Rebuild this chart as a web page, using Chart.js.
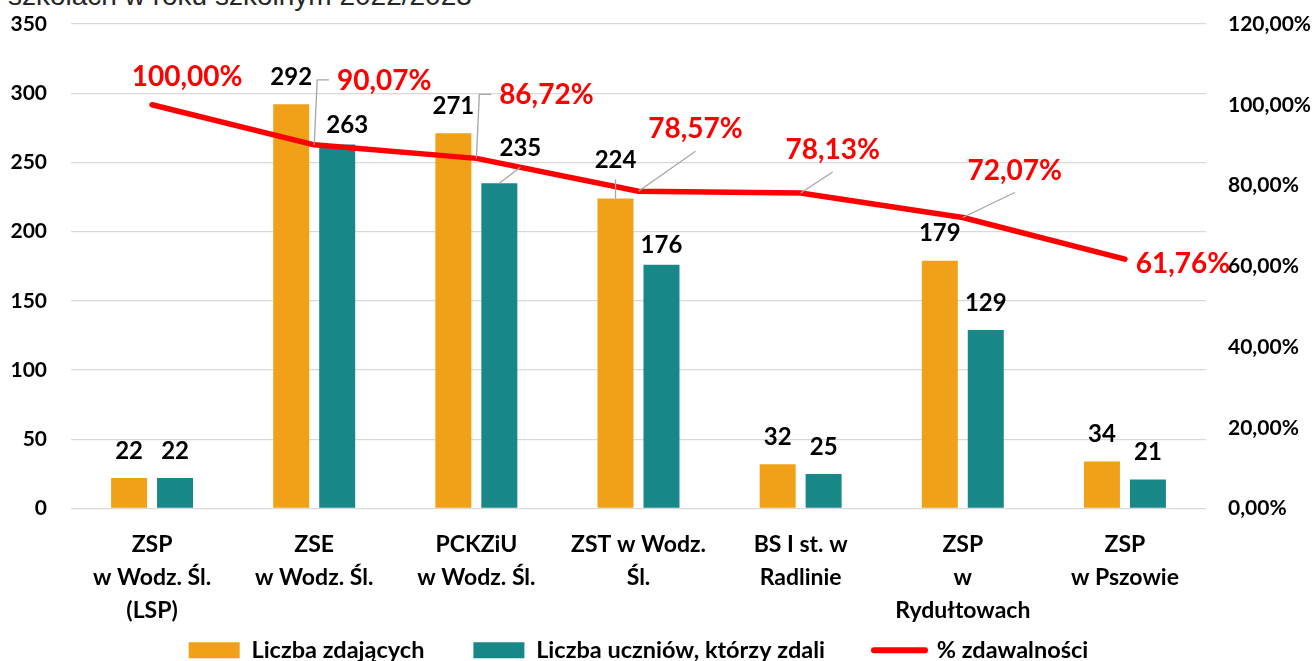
<!DOCTYPE html>
<html lang="pl">
<head>
<meta charset="utf-8">
<title>Zdawalność</title>
<script src="https://cdn.jsdelivr.net/npm/chart.js@4"></script>
<style>
  html, body { margin: 0; padding: 0; background: #fff; overflow: hidden; }
  #wrap { position: relative; width: 1316px; height: 661px; overflow: hidden; }
  #title { position: absolute; left: 8px; top: -20px; font: 28px "Liberation Sans", Arial, sans-serif; color: #262626; white-space: nowrap; }
  #c { position: absolute; left: 0; top: 0; }
</style>
</head>
<body>
<div id="wrap">
  <div id="title">szkołach w roku szkolnym 2022/2023</div>
  <canvas id="c" width="1316" height="672"></canvas>
</div>
<script>
  var SCHOOLS = [
    ["ZSP", "w Wodz. Śl.", "(LSP)"],
    ["ZSE", "w Wodz. Śl."],
    ["PCKZiU", "w Wodz. Śl."],
    ["ZST w Wodz.", "Śl."],
    ["BS I st. w", "Radlinie"],
    ["ZSP", "w", "Rydułtowach"],
    ["ZSP", "w Pszowie"]
  ];
  var ZDAJACY = [22, 292, 271, 224, 32, 179, 34];
  var ZDALI = [22, 263, 235, 176, 25, 129, 21];
  var ZDAWALNOSC = [100.00, 90.07, 86.72, 78.57, 78.13, 72.07, 61.76];
  var SERIES_NAMES = ["Liczba zdających", "Liczba uczniów, którzy zdali", "% zdawalności"];

  // label placement (px, relative to the mark), kept apart from the data
  var BAR_LABEL_NUDGE = [
    [[0, 0], [0, 0], [0, 0], [0, -11], [0, 0], [0, 0], [0, 0]],
    [[0, 0], [10, 8], [21, -8], [0, 7], [0, 0], [0, 0], [0, 0]]
  ];
  var PCT_LABEL_NUDGE = [[35, -28], [70, -64], [70, -63], [57, -62], [32, -43], [52, -47], [58, 5]];
  var PCT_LEADER = ["none", "elbow", "elbow", "straight", "straight", "straight", "none"];

  var FONT = "Lato, 'Noto Sans', sans-serif";
  var ORANGE = "#F0A117";
  var TEAL = "#178788";
  var RED = "#FF0000";
  var LEADER = "#A6A6A6";
  var LEGEND_GAP = "\u2003\u2003\u2002";

  function pct(v) {
    return v.toFixed(2).replace(".", ",") + "%";
  }

  // keep the tick padding from eating the top of the plot
  function trimPadding(s) {
    s.paddingTop = 0;
    s.paddingBottom = 0;
  }

  var labelPlugin = {
    id: "valueLabels",
    afterDatasetsDraw: function (chart) {
      var ctx = chart.ctx;
      ctx.save();
      ctx.textAlign = "center";
      ctx.textBaseline = "middle";
      ctx.lineWidth = 1.3;
      ctx.strokeStyle = LEADER;

      ctx.font = "bold 24px " + FONT;
      ctx.fillStyle = "#000";
      [0, 1].forEach(function (di) {
        var values = chart.data.datasets[di].data;
        chart.getDatasetMeta(di).data.forEach(function (bar, i) {
          var n = BAR_LABEL_NUDGE[di][i];
          var x = bar.x + n[0];
          var y = bar.y - 27 + n[1];
          if (n[1] < -5) {
            ctx.beginPath();
            ctx.moveTo(bar.x, bar.y);
            ctx.lineTo(x, y + 19);
            ctx.stroke();
          }
          ctx.fillText(String(values[i]), x, y);
        });
      });

      ctx.font = "bold 28px " + FONT;
      ctx.fillStyle = RED;
      var values = chart.data.datasets[2].data;
      chart.getDatasetMeta(2).data.forEach(function (pt, i) {
        var n = PCT_LABEL_NUDGE[i];
        var x = pt.x + n[0];
        var y = pt.y + n[1];
        var txt = pct(values[i]);
        var w = ctx.measureText(txt).width;
        if (PCT_LEADER[i] === "elbow") {
          ctx.beginPath();
          ctx.moveTo(pt.x, pt.y);
          ctx.lineTo(pt.x + 3, y - 1);
          ctx.lineTo(x - w / 2 - 8, y - 1);
          ctx.stroke();
        } else if (PCT_LEADER[i] === "straight") {
          ctx.beginPath();
          ctx.moveTo(pt.x, pt.y);
          ctx.lineTo(x, y + 22);
          ctx.stroke();
        }
        ctx.fillText(txt, x, y);
      });
      ctx.restore();
    }
  };

  new Chart(document.getElementById("c"), {
    type: "bar",
    data: {
      labels: SCHOOLS,
      datasets: [
        {
          label: SERIES_NAMES[0],
          data: ZDAJACY,
          backgroundColor: ORANGE,
          yAxisID: "y",
          order: 1,
          categoryPercentage: 0.567,
          barPercentage: 0.783
        },
        {
          label: SERIES_NAMES[1],
          data: ZDALI,
          backgroundColor: TEAL,
          yAxisID: "y",
          order: 1,
          categoryPercentage: 0.567,
          barPercentage: 0.783
        },
        {
          type: "line",
          label: SERIES_NAMES[2],
          data: ZDAWALNOSC,
          yAxisID: "y1",
          order: 0,
          borderColor: RED,
          backgroundColor: RED,
          borderWidth: 5.5,
          borderCapStyle: "round",
          borderJoinStyle: "round",
          pointRadius: 0,
          tension: 0
        }
      ]
    },
    options: {
      responsive: false,
      maintainAspectRatio: false,
      animation: false,
      layout: { padding: { top: 24, left: 0, right: 0, bottom: 0 } },
      plugins: {
        tooltip: { enabled: false },
        legend: {
          position: "bottom",
          fullSize: false,
          labels: {
            usePointStyle: true,
            pointStyleWidth: 51,
            boxHeight: 16,
            padding: 2,
            color: "#000",
            font: { family: FONT, size: 23.5, weight: "bold" },
            generateLabels: function (chart) {
              var n = chart.data.datasets.length;
              return chart.data.datasets.map(function (ds, i) {
                var isLine = ds.type === "line";
                return {
                  text: ds.label + (i < n - 1 ? LEGEND_GAP : ""),
                  fillStyle: isLine ? ds.borderColor : ds.backgroundColor,
                  strokeStyle: isLine ? ds.borderColor : ds.backgroundColor,
                  lineWidth: isLine ? 6 : 0,
                  lineCap: "round",
                  pointStyle: isLine ? "line" : "rect",
                  fontColor: "#000",
                  hidden: false,
                  datasetIndex: i
                };
              });
            }
          }
        }
      },
      scales: {
        x: {
          grid: { display: false },
          border: { display: false },
          ticks: {
            color: "#000",
            padding: 12,
            maxRotation: 0,
            autoSkip: false,
            font: { family: FONT, size: 23, weight: "bold", lineHeight: 1.42 }
          },
          afterFit: function (s) { s.height = 128; }
        },
        y: {
          position: "left",
          min: 0,
          max: 350,
          grid: { color: "#D9D9D9", lineWidth: 1.3, drawTicks: false },
          border: { display: false },
          ticks: {
            stepSize: 50,
            padding: 24,
            color: "#000",
            font: { family: FONT, size: 21, weight: "bold" }
          },
          afterFit: function (s) { s.width = 71; trimPadding(s); }
        },
        y1: {
          position: "right",
          min: 0,
          max: 120,
          grid: { display: false, drawTicks: false },
          border: { display: false },
          ticks: {
            stepSize: 20,
            padding: 22,
            color: "#000",
            font: { family: FONT, size: 21, weight: "bold" },
            callback: function (v) { return pct(v); }
          },
          afterFit: function (s) { s.width = 110; trimPadding(s); }
        }
      }
    },
    plugins: [labelPlugin]
  });
</script>
</body>
</html>
